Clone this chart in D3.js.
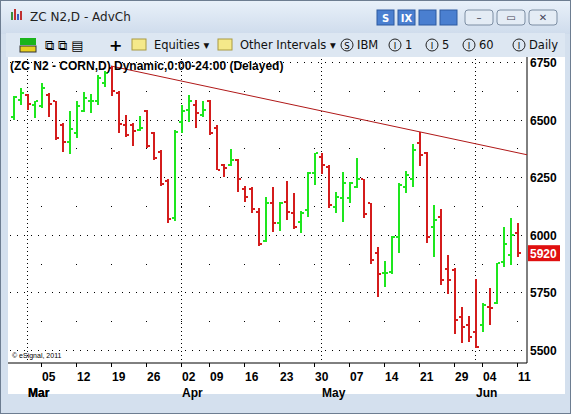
<!DOCTYPE html>
<html lang="en">
<head>
<meta charset="UTF-8">
<title>ZC N2,D - AdvCh</title>
<script src="https://d3js.org/d3.v7.min.js"></script>
<style>
  html, body { margin: 0; padding: 0; overflow: hidden; background: #dfe8f2; }
  svg { display: block; font-family: "DejaVu Sans", sans-serif; }
</style>
</head>
<body>
<svg id="chart" width="571" height="414"></svg>
<script>
// OHLC of ZC N2 daily bars, Feb 28 2012 .. Jun 11 2012
const opens  = [6513,6586,6608,6564,6557,6608,6579,6476,6403,6440,6538,6579,6579,6659,6725,6615,6476,6476,6454,6535,6440,6359,6235,6074,6491,6542,6564,6520,6579,6465,6301,6301,6323,6199,6199,6100,
                5974,6139,6052,6143,6093,6056,6107,6266,6338,6295,6121,6158,6158,6208,6240,6136,5919,5832,5840,5991,6205,6244,6396,6353,6035,6075,5850,5847,5645,5608,5580,5608,5688,5705,5883,5912,6006];
const highs  = [6601,6637,6611,6582,6659,6615,6582,6484,6538,6582,6620,6611,6693,6710,6732,6623,6520,6484,6517,6542,6447,6367,6242,6454,6561,6608,6586,6582,6586,6474,6308,6371,6330,6213,6206,6118,
                6162,6205,6143,6233,6182,6104,6273,6355,6353,6302,6186,6273,6230,6331,6244,6139,5945,5887,5994,6223,6277,6393,6447,6360,6129,6110,5912,5854,5688,5647,5806,5705,5767,5879,6032,6071,6052];
const lows   = [6498,6564,6542,6506,6550,6513,6411,6359,6352,6421,6532,6528,6561,6640,6601,6440,6425,6386,6450,6377,6323,6213,6052,6060,6440,6491,6465,6509,6433,6279,6250,6298,6187,6140,6096,5950,
                5970,6013,6017,6064,6023,6006,6078,6215,6263,6118,6095,6056,6139,6201,6071,5873,5731,5775,5830,5922,6182,6208,6298,5965,5902,5782,5743,5569,5532,5536,5507,5580,5608,5699,5862,5869,5902];
const closes = [6596,6615,6567,6579,6637,6567,6421,6403,6459,6557,6593,6582,6681,6703,6625,6479,6433,6450,6465,6386,6333,6221,6067,6447,6535,6579,6528,6542,6440,6283,6290,6323,6240,6162,6111,5962,
                6139,6052,6136,6100,6032,6095,6266,6353,6302,6129,6162,6223,6223,6244,6090,5890,5830,5835,5991,6215,6259,6367,6345,5991,6064,5804,5804,5630,5601,5558,5512,5695,5681,5876,5962,5999,5920];
const holidays = ["2012-04-06", "2012-05-28"];
const yTicks = [5500, 5750, 6000, 6250, 6500, 6750];
const trendFrom = { i: 14, price: 6732 };
const trendTo = { i: 58, price: 6447 };
const lastPrice = 5920;

// trading days
const fmtISO = d3.timeFormat("%Y-%m-%d");
const dates = d3.timeDays(new Date(2012, 1, 28), new Date(2012, 5, 12))
  .filter(d => d.getDay() !== 0 && d.getDay() !== 6 && !holidays.includes(fmtISO(d)));
const bars = dates.map((d, i) => ({ date: d, i, o: opens[i], h: highs[i], l: lows[i], c: closes[i] }));

const svg = d3.select("#chart");
const W = 571, H = 414;
const plot = { left: 8, right: 527, top: 57, bottom: 363 };

// ---- window chrome ----
const grad = svg.append("defs").append("linearGradient").attr("id", "tb").attr("x1", 0).attr("y1", 0).attr("x2", 0).attr("y2", 1);
grad.append("stop").attr("offset", 0).attr("stop-color", "#e9f1fa");
grad.append("stop").attr("offset", 1).attr("stop-color", "#cfdcec");
svg.append("rect").attr("width", W).attr("height", H).attr("fill", "#d4e0ee");
svg.append("rect").attr("width", W).attr("height", 34).attr("fill", "url(#tb)");
svg.append("rect").attr("x", 0.5).attr("y", 0.5).attr("width", W - 1).attr("height", H - 1)
  .attr("fill", "none").attr("stroke", "#6d7d91");
svg.append("text").attr("x", 30).attr("y", 21).attr("font-size", 12).attr("fill", "#222").text("ZC N2,D - AdvCh");
[["#3a8e3a", 3, 8], ["#c03030", 6, 11], ["#3a5ec0", 9, 6], ["#c03030", 12, 9]].forEach(([c, x, h]) =>
  svg.append("rect").attr("x", 8 + x).attr("y", 20 - h).attr("width", 2).attr("height", h).attr("fill", c));
// title bar buttons
[377, 398, 419, 440].forEach((x, k) => {
  svg.append("rect").attr("x", x).attr("y", 10).attr("width", 17).attr("height", 15).attr("fill", "#4a7fd0").attr("stroke", "#2c5aa0");
  svg.append("text").attr("x", x + 8.5).attr("y", 22).attr("text-anchor", "middle").attr("font-size", 10)
    .attr("font-weight", "bold").attr("fill", "#fff").text(["S", "IX", "", ""][k]);
});
[465, 497, 529].forEach((x, k) => {
  svg.append("rect").attr("x", x).attr("y", 10).attr("width", 28).attr("height", 15).attr("rx", 3)
    .attr("fill", "#e4ecf5").attr("stroke", "#7d8ea3");
  svg.append("text").attr("x", x + 14).attr("y", 21).attr("text-anchor", "middle").attr("font-size", 10)
    .attr("fill", "#445").text(["–", "▭", "✕"][k]);
});
// toolbar
svg.append("rect").attr("x", 6).attr("y", 33).attr("width", 559).attr("height", 24).attr("fill", "#dde7f2");
svg.append("rect").attr("x", 20).attr("y", 38).attr("width", 16).attr("height", 7).attr("fill", "#1bb41b");
svg.append("rect").attr("x", 20).attr("y", 46).attr("width", 16).attr("height", 6).attr("fill", "#e8d020").attr("stroke", "#333");
svg.append("text").attr("x", 45).attr("y", 50).attr("font-size", 13).text("⧉  ⧉  ▤");
svg.append("text").attr("x", 109).attr("y", 51).attr("font-size", 16).attr("font-weight", "bold").text("+");
[[132, "Equities ▾"], [218, "Other Intervals ▾"]].forEach(([x, t]) => {
  svg.append("rect").attr("x", x).attr("y", 39).attr("width", 14).attr("height", 11).attr("fill", "#f5e98a").attr("stroke", "#a99a40");
  svg.append("text").attr("x", x + 22).attr("y", 49).attr("font-size", 11.5).attr("fill", "#111").text(t);
});
[[347, "S", "IBM"], [395, "I", "1"], [432, "I", "5"], [469, "I", "60"], [519, "I", "Daily"]].forEach(([x, s, t]) => {
  svg.append("circle").attr("cx", x).attr("cy", 45).attr("r", 6).attr("fill", "none").attr("stroke", "#222");
  svg.append("text").attr("x", x).attr("y", 48.5).attr("text-anchor", "middle").attr("font-size", 8.5).text(s);
  svg.append("text").attr("x", x + 10).attr("y", 49).attr("font-size", 11.5).attr("fill", "#111").text(t);
});

// chart background
svg.append("rect").attr("x", plot.left).attr("y", plot.top).attr("width", 557).attr("height", 337).attr("fill", "#fff");
svg.append("line").attr("x1", plot.right).attr("x2", plot.right).attr("y1", plot.top).attr("y2", plot.bottom).attr("stroke", "#000");
svg.append("line").attr("x1", plot.left).attr("x2", plot.right).attr("y1", plot.bottom).attr("y2", plot.bottom).attr("stroke", "#000");

// scales
const x = d3.scaleLinear().domain([0, bars.length - 1]).range([13, 517]);
const y = d3.scaleLinear().domain([5500, 6500]).range([350, 119.5]);

// grid
const monthStarts = bars.filter((b, k) => k > 0 && b.date.getMonth() !== bars[k - 1].date.getMonth());
const weekStarts = bars.filter((b, k) => k > 0 && (b.date.getDay() < bars[k - 1].date.getDay()));
const grid = svg.append("g");
grid.selectAll("line.h").data(yTicks).join("line")
  .attr("x1", plot.left + 2).attr("x2", plot.right - 2).attr("y1", d => Math.round(y(d)) + 0.5).attr("y2", d => Math.round(y(d)) + 0.5)
  .attr("stroke", "#000").attr("stroke-dasharray", "1,6");
grid.selectAll("line.v").data(monthStarts).join("line")
  .attr("x1", d => Math.round(x(d.i)) + 0.5).attr("x2", d => Math.round(x(d.i)) + 0.5)
  .attr("y1", plot.top + 2).attr("y2", plot.bottom)
  .attr("stroke", "#000").attr("stroke-dasharray", "1,3");
const midTicks = d3.range(5625, 6750, 250);
weekStarts.forEach(w => midTicks.forEach(p => grid.append("rect")
  .attr("x", Math.round(x(w.i))).attr("y", Math.round(y(p))).attr("width", 1).attr("height", 1).attr("fill", "#000")));

// y axis labels
svg.append("g").selectAll("text").data(yTicks).join("text")
  .attr("x", 530).attr("y", d => y(d) + 5).attr("font-size", 12).attr("font-weight", "bold")
  .attr("font-family", "Liberation Sans, Arial, sans-serif").text(d => d);

// x axis labels
const ax = svg.append("g").attr("font-family", "Liberation Sans, Arial, sans-serif").attr("font-weight", "bold").attr("font-size", 12);
const weekLabels = [bars.find(b => b.date.getDay() === 1)].concat(weekStarts).filter((b, k, a) => a.indexOf(b) === k);
ax.selectAll("line").data(weekLabels).join("line")
  .attr("x1", d => Math.round(x(d.i)) + 0.5).attr("x2", d => Math.round(x(d.i)) + 0.5)
  .attr("y1", plot.bottom).attr("y2", plot.bottom + 4).attr("stroke", "#000");
ax.selectAll("text.w").data(weekLabels).join("text").attr("class", "w")
  .attr("x", d => x(d.i) + 1).attr("y", 381).text(d => d3.timeFormat("%d")(d.date));
ax.selectAll("text.m").data([bars[2]].concat(monthStarts)).join("text").attr("class", "m")
  .attr("x", d => x(d.i) + 1).attr("y", 397).text(d => d3.timeFormat("%b")(d.date));

// trend line
const slope = (trendTo.price - trendFrom.price) / (trendTo.i - trendFrom.i);
const endI = x.invert(plot.right);
svg.append("line")
  .attr("x1", x(trendFrom.i)).attr("y1", y(trendFrom.price))
  .attr("x2", plot.right).attr("y2", y(trendFrom.price + slope * (endI - trendFrom.i)))
  .attr("stroke", "#b01818").attr("stroke-width", 1);

// OHLC bars
const g = svg.append("g").attr("shape-rendering", "crispEdges");
const col = d => d.c >= d.o ? "#1ee61e" : "#d41c1c";
g.selectAll("line.hl").data(bars).join("line")
  .attr("x1", d => Math.round(x(d.i)) + 1).attr("x2", d => Math.round(x(d.i)) + 1)
  .attr("y1", d => y(d.h)).attr("y2", d => y(d.l)).attr("stroke", col).attr("stroke-width", 2);
g.selectAll("line.o").data(bars).join("line")
  .attr("x1", d => Math.round(x(d.i)) - 2).attr("x2", d => Math.round(x(d.i)))
  .attr("y1", d => y(d.o)).attr("y2", d => y(d.o)).attr("stroke", col).attr("stroke-width", 2);
g.selectAll("line.c").data(bars).join("line")
  .attr("x1", d => Math.round(x(d.i)) + 2).attr("x2", d => Math.round(x(d.i)) + 4)
  .attr("y1", d => y(d.c)).attr("y2", d => y(d.c)).attr("stroke", col).attr("stroke-width", 2);

// last price tag
svg.append("rect").attr("x", 528).attr("y", y(lastPrice) - 8).attr("width", 32).attr("height", 16).attr("fill", "#e01010");
svg.append("text").attr("x", 530).attr("y", y(lastPrice) + 5).attr("font-size", 12).attr("font-weight", "bold")
  .attr("font-family", "Liberation Sans, Arial, sans-serif").attr("fill", "#fff").text(lastPrice);

// titles
svg.append("text").attr("x", 10).attr("y", 70).attr("font-size", 12).attr("font-weight", "bold")
  .attr("font-family", "Liberation Sans, Arial, sans-serif").text("(ZC N2 - CORN,D) Dynamic,0:00-24:00 (Delayed)");
svg.append("text").attr("x", 12).attr("y", 358).attr("font-size", 7).attr("font-family", "Liberation Sans, Arial, sans-serif")
  .text("© eSignal, 2011");
</script>
</body>
</html>
